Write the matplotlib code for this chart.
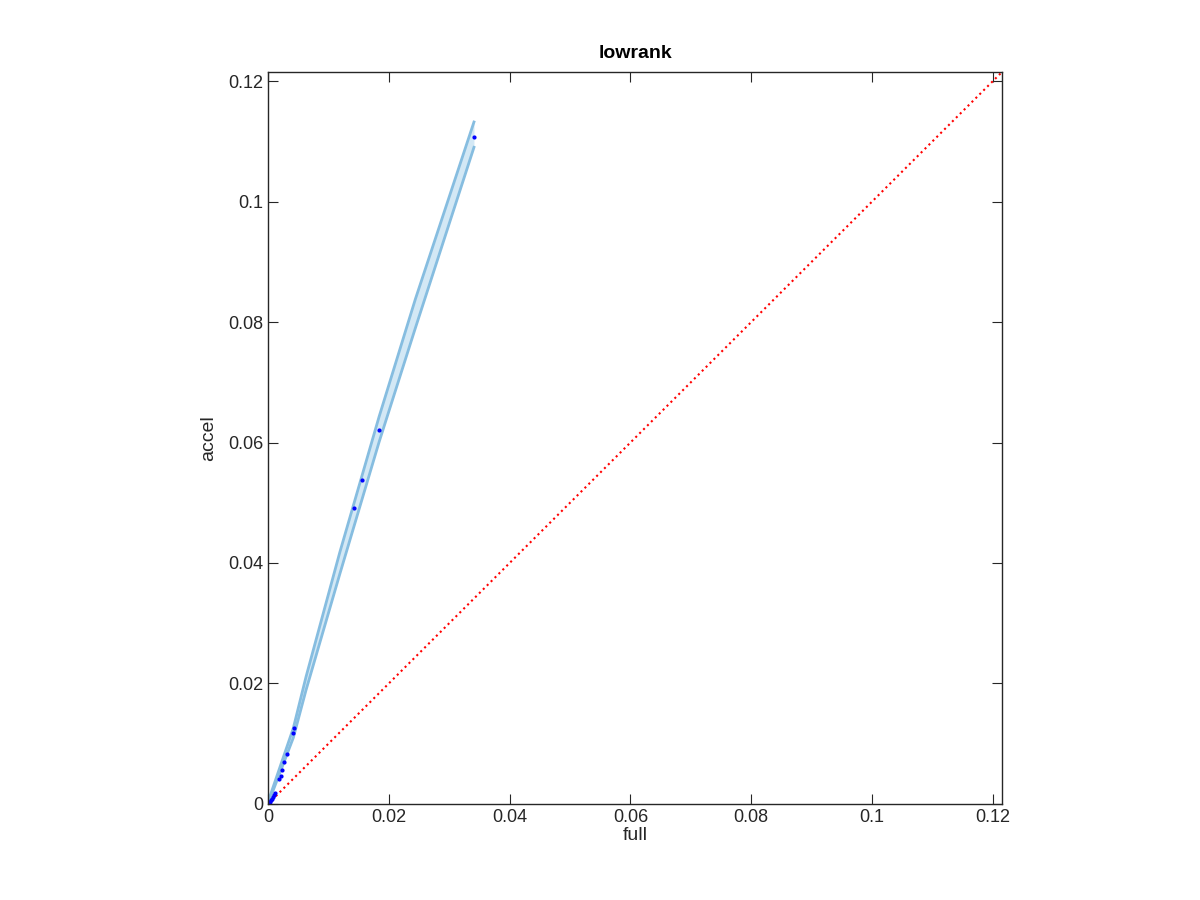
import numpy as np
import matplotlib
matplotlib.use("Agg")
import matplotlib.pyplot as plt

plt.rcParams.update({
    "font.family": ["Liberation Sans", "DejaVu Sans"],
    "font.size": 13,
    "axes.edgecolor": "#262626",
    "axes.linewidth": 1.0,
    "xtick.direction": "in",
    "ytick.direction": "in",
    "xtick.color": "#262626",
    "ytick.color": "#262626",
    "xtick.major.size": 7,
    "ytick.major.size": 7,
    "xtick.top": True,
    "ytick.right": True,
})

# data
full = [0.0341, 0.0184, 0.0155, 0.0142, 0.00435, 0.0042, 0.0031, 0.0027,
        0.0023, 0.0021, 0.0019, 0.0012, 0.0010, 0.0009, 0.0007, 0.0005,
        0.0003, 0.0002, 0.0001]
accel = [0.1107, 0.0621, 0.0537, 0.0492, 0.0126, 0.01175, 0.0083, 0.0069,
         0.0057, 0.0047, 0.0042, 0.0018, 0.0015, 0.0012, 0.0009, 0.0006,
         0.0004, 0.0003, 0.0001]

band_x = [0.0, 0.0042, 0.0063, 0.0119, 0.0184, 0.0244, 0.0341]
band_upper = [0.0003, 0.0126, 0.0211, 0.0418, 0.0643, 0.0838, 0.1132]
band_lower = [0.0, 0.0110, 0.0189, 0.0382, 0.0601, 0.0790, 0.1090]

lim = 0.1215

fig = plt.figure(figsize=(12, 9), dpi=100)
ax = fig.add_axes([0.2233, 0.1067, 0.6117, 0.8133])

ax.fill_between(band_x, band_lower, band_upper, color="#d3e8f5", lw=0)
ax.plot(band_x, band_upper, color="#86bde0", lw=2)
ax.plot(band_x, band_lower, color="#86bde0", lw=2)

ax.plot([0, lim], [0, lim], ":", color="red", lw=1.5)
ax.plot(full, accel, ".", color="blue", ms=4)

ticks = [0, 0.02, 0.04, 0.06, 0.08, 0.1, 0.12]
tick_labels = ["0", "0.02", "0.04", "0.06", "0.08", "0.1", "0.12"]
ax.set_xlim(0, lim)
ax.set_ylim(0, lim)
ax.set_xticks(ticks)
ax.set_xticklabels(tick_labels)
ax.set_yticks(ticks)
ax.set_yticklabels(tick_labels)
ax.set_xlabel("full", color="#262626", fontsize=14, labelpad=1)
ax.set_ylabel("accel", color="#262626", fontsize=14, labelpad=8)
ax.set_title("lowrank", fontweight="bold", fontsize=14, pad=10)

fig.savefig("out.png", dpi=100)
